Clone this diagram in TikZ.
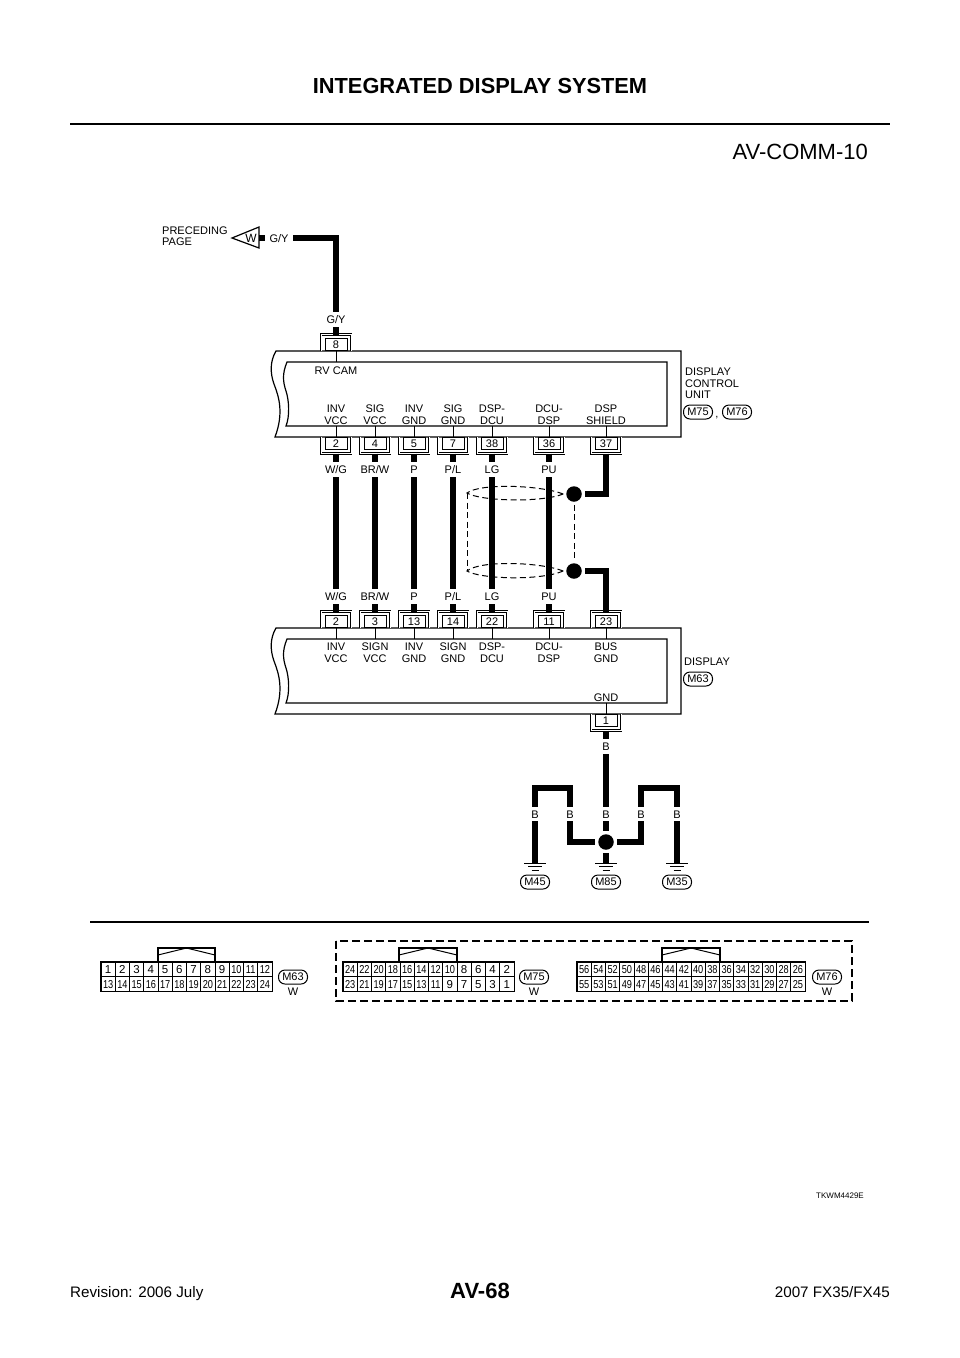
\documentclass[tikz,border=0pt]{standalone}
\usepackage{fontspec}
\setmainfont{Liberation Sans}
\usepackage{xcolor}
\usepackage{tikz}
\usetikzlibrary{arrows.meta, calc}

\tikzset{
  lab/.style={font=\fontsize{11}{11.5}\selectfont, inner sep=0pt, text height=8pt, text depth=0pt},
  pinlab/.style={font=\fontsize{11}{11.5}\selectfont, inner sep=0pt, align=center, anchor=south},
  wlabel/.style={lab, fill=white, minimum height=15pt, minimum width=16pt},
  pinbox/.style={draw, line width=1pt, fill=white, minimum width=22pt, minimum height=12pt, inner sep=0pt, text height=8pt, text depth=0pt, font=\fontsize{11}{11}\selectfont},
  pinline/.style={line width=.7pt, double, double distance=1pt},
  wire/.style={line width=6.5pt, line join=miter},
  thinline/.style={line width=1pt},
  boxline/.style={line width=1.2pt, line join=miter},
  shield/.style={line width=1pt, dash pattern=on 6pt off 3.5pt},
  splice/.style={circle, fill=black, minimum size=15.5pt, inner sep=0pt, outer sep=3pt},
  oval/.style={draw, line width=1pt, rounded corners=6.5pt, minimum width=29pt, minimum height=14pt, inner sep=0pt, font=\fontsize{11}{11}\selectfont},
  cell/.style={draw, line width=.9pt, minimum height=14.5pt, inner sep=0pt, text height=8pt, text depth=0pt, font=\fontsize{11.5}{11.5}\selectfont},
}

% pin hanging below a unit, pin sitting on top of a unit
\newcommand{\pinbelow}[4]{
  \node[pinbox, anchor=north] (#1) at (#2,#3) {#4};
  \draw[pinline] ([xshift=-3.5pt]#1.north west) -- ([shift={(-3.5pt,-3.5pt)}]#1.south west) -- ([shift={(3.5pt,-3.5pt)}]#1.south east) -- ([xshift=3.5pt]#1.north east);
}
\newcommand{\pinabove}[4]{
  \node[pinbox, anchor=south] (#1) at (#2,#3) {#4};
  \draw[pinline] ([xshift=-3.5pt]#1.south west) -- ([shift={(-3.5pt,3.5pt)}]#1.north west) -- ([shift={(3.5pt,3.5pt)}]#1.north east) -- ([xshift=3.5pt]#1.south east);
}
% unit outline with the torn left side
\newcommand{\unitbox}[4]{
  \draw[boxline] (276,#1) .. controls (270,{#1+10}) and (270,{#1+22}) .. (274,{#1+33}) .. controls (279,{#1+46}) and (284,{#1+62}) .. (275,#2) -- (681,#2) -- (681,#1) -- cycle;
  \draw[boxline] (287,#3) .. controls (282,{#3+12}) and (283,{#3+20}) .. (286,{#3+29}) .. controls (289,{#3+38}) and (290,{#3+54}) .. (286,#4) -- (667,#4) -- (667,#3) -- cycle;
}
% ground symbol
\newcommand{\earth}[2]{
  \draw[thinline] ({#1-11},#2) -- ({#1+11},#2);
  \draw[thinline] ({#1-7},{#2+3.5}) -- ({#1+7},{#2+3.5});
  \draw[thinline] ({#1-3.5},{#2+7}) -- ({#1+3.5},{#2+7});
}
% connector face: name, left x, cell width, top row, bottom row
\newcommand{\pinnum}[1]{\ifnum#1>9 \scalebox{.8}[1]{#1}\else #1\fi}
\newcommand{\face}[5]{
  \foreach \n [count=\i] in {#4}
    \node[cell, minimum width=#3 pt] (#1t\i) at ({#2+(\i-.5)*#3},969.5) {\pinnum{\n}};
  \foreach \n [count=\i] in {#5}
    \node[cell, minimum width=#3 pt] (#1b\i) at ({#2+(\i-.5)*#3},984) {\pinnum{\n}};
}
\newcommand{\hood}[2]{
  \draw[boxline] (#1,962) -- (#1,948) -- (#2,948) -- (#2,962);
  \draw[thinline] (#1,955) -- ({(#1+#2)/2},948) -- (#2,955);
}

\begin{document}
\begin{tikzpicture}[x=1pt, y=-1pt]
  \useasboundingbox (0,0) rectangle (960,1358);

  % page head and foot
  \node[font=\fontsize{21.8}{22}\bfseries, inner sep=0pt] (title) at (480,86) {INTEGRATED DISPLAY SYSTEM};
  \draw[line width=2.5pt] (70,124) -- (890,124);
  \node[font=\fontsize{22}{22}\selectfont, inner sep=0pt, anchor=east] (fig) at (868,152) {AV-COMM-10};
  \node[font=\fontsize{22}{22}\bfseries, inner sep=0pt] (page) at (480,1291) {AV-68};
  \node[font=\fontsize{15.2}{15}\selectfont, inner sep=0pt, anchor=base west] (rev) at (70,1297) {Revision: 2006 July};
  \node[font=\fontsize{15.2}{15}\selectfont, inner sep=0pt, anchor=base east] (model) at (890,1297) {2007 FX35/FX45};
  \node[font=\fontsize{8}{8}\selectfont, inner sep=0pt, anchor=east] (code) at (864,1196) {TKWM4429E};

  % units
  \unitbox{351}{437}{362}{426}
  \unitbox{628}{714}{639}{703}

  % pins
  \pinabove{u8}{336}{351}{8}
  \foreach \n/\x/\t in {a/336/2, b/375/4, c/414/5, d/453/7, e/492/38, f/549/36, g/606/37}
    \pinbelow{u\n}{\x}{437}{\t};
  \foreach \n/\x/\t in {a/336/2, b/375/3, c/414/13, d/453/14, e/492/22, f/549/11, g/606/23}
    \pinabove{l\n}{\x}{628}{\t};
  \pinbelow{l1}{606}{714}{1}

  % stems into the units
  \draw[thinline] (u8.south) -- ++(0,11);
  \foreach \n in {a,b,c,d,e,f,g} {
    \draw[thinline] (u\n.north) -- ++(0,-11);
    \draw[thinline] (l\n.south) -- ++(0,11);
  }
  \draw[thinline] (l1.north) -- ++(0,-11);

  % shield, under the wires
  \node[splice] (sha) at (574,494) {};
  \node[splice] (shb) at (574,571) {};
  \draw[shield] (sha.west) .. controls (540,485) and (480,483) .. (467,493) .. controls (480,501) and (540,503) .. (sha.west);
  \draw[shield] (shb.west) .. controls (540,562) and (480,560) .. (467,571) .. controls (480,579) and (540,581) .. (shb.west);
  \draw[shield] (467,493) -- (467,571);
  \draw[shield] (sha.south) -- (shb.north);

  % wires
  \foreach \n in {a,b,c,d,e,f}
    \draw[wire] ([yshift=-3.5pt]u\n.south) -- ([yshift=3.5pt]l\n.north);
  \draw[wire] ([yshift=-3.5pt]ug.south) |- (sha.east);
  \draw[wire] ([yshift=3.5pt]lg.north) |- (shb.east);

  % top wire and flag
  \coordinate (flagpt) at (259,238);
  \draw[boxline] (232,238) -- (259,227) -- (259,248) -- cycle;
  \node[lab, font=\fontsize{12}{12}\selectfont] (flagw) at (251,238) {W};
  \coordinate (bend) at (336,238);
  \draw[wire] (flagpt) -- (bend) -- ([yshift=3.5pt]u8.north);
  \node[wlabel, minimum width=28pt] (gya) at (279,238) {G/Y};
  \node[wlabel] (gyb) at (336,319) {G/Y};
  \node[font=\fontsize{11}{11}\selectfont, inner sep=0pt, anchor=west, align=left] (prec) at (162,236.5) {PRECEDING\\PAGE};

  % wire colours
  \foreach \x/\t in {336/{W/G}, 375/{BR/W}, 414/P, 453/{P/L}, 492/LG, 549/PU} {
    \node[wlabel] (wu\x) at (\x,469) {\t};
    \node[wlabel] (wl\x) at (\x,596.5) {\t};
  }

  % terminal names
  \node[lab] (rv) at (336,370) {RV CAM};
  \foreach \x/\t in {336/{INV\\VCC}, 375/{SIG\\VCC}, 414/{INV\\GND}, 453/{SIG\\GND}, 492/{DSP-\\DCU}, 549/{DCU-\\DSP}, 606/{DSP\\SHIELD}}
    \node[pinlab] (tu\x) at (\x,424.5) {\t};
  \foreach \x/\t in {336/{INV\\VCC}, 375/{SIGN\\VCC}, 414/{INV\\GND}, 453/{SIGN\\GND}, 492/{DSP-\\DCU}, 549/{DCU-\\DSP}, 606/{BUS\\GND}}
    \node[pinlab] (tl\x) at (\x,662.5) {\t};
  \node[lab] (gnd) at (606,697) {GND};

  % unit names
  \node[font=\fontsize{11}{11.5}\selectfont, inner sep=0pt, anchor=north west, align=left] (dcu) at (685,368) {DISPLAY\\CONTROL\\UNIT};
  \node[oval] (m75) at (698,412) {M75};
  \node[lab] (comma) at (717,413) {,};
  \node[oval] (m76) at (737,412) {M76};
  \node[lab, anchor=west] (disp) at (684,661) {DISPLAY};
  \node[oval] (m63) at (698,679) {M63};

  % grounds
  \node[splice] (sp) at (606,842) {};
  \coordinate (gl) at (535,863);
  \coordinate (gc) at (606,863);
  \coordinate (gr) at (677,863);
  \draw[wire] ([yshift=-3.5pt]l1.south) -- (sp);
  \draw[wire] (sp) -- (gc);
  \draw[wire] (gl) -- (535,788) -- (570,788) -- (570,842) -- (sp);
  \draw[wire] (gr) -- (677,788) -- (641,788) -- (641,842) -- (sp);
  \earth{535}{863}
  \earth{606}{863}
  \earth{677}{863}
  \node[wlabel] (bt) at (606,746) {B};
  \foreach \x in {535,570,606,641,677}
    \node[wlabel, minimum width=12pt, minimum height=14pt] (b\x) at (\x,814) {B};
  \node[oval] (m45) at (535,882) {M45};
  \node[oval] (m85) at (606,882) {M85};
  \node[oval] (m35) at (677,882) {M35};

  % connector views
  \draw[line width=1.8pt] (90,922) -- (869,922);
  \draw[line width=1.2pt, dash pattern=on 8pt off 4pt] (336,941) rectangle (852,1001);

  \hood{158}{215}
  \face{fa}{101}{14.25}{1,2,3,4,5,6,7,8,9,10,11,12}{13,14,15,16,17,18,19,20,21,22,23,24}
  \draw[boxline] (fat1.north west) rectangle (fab12.south east);
  \node[oval] (fam) at (293,977) {M63};
  \node[lab] (faw) at (293,991) {W};

  \hood{399}{457}
  \face{fb}{343}{14.25}{24,22,20,18,16,14,12,10,8,6,4,2}{23,21,19,17,15,13,11,9,7,5,3,1}
  \draw[boxline] (fbt1.north west) rectangle (fbb12.south east);
  \node[oval] (fbm) at (534,977) {M75};
  \node[lab] (fbw) at (534,991) {W};

  \hood{662}{720}
  \face{fc}{577}{14.25}{56,54,52,50,48,46,44,42,40,38,36,34,32,30,28,26}{55,53,51,49,47,45,43,41,39,37,35,33,31,29,27,25}
  \draw[boxline] (fct1.north west) rectangle (fcb16.south east);
  \node[oval] (fcm) at (827,977) {M76};
  \node[lab] (fcw) at (827,991) {W};
\end{tikzpicture}
\end{document}
